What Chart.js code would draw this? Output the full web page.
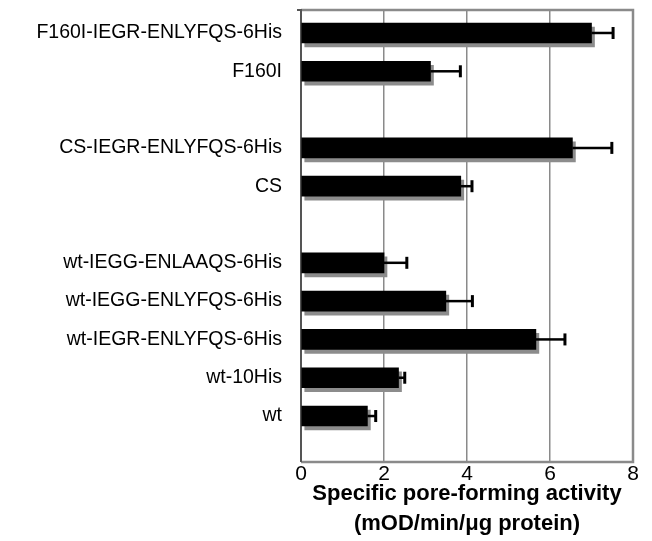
<!DOCTYPE html>
<html>
<head>
<meta charset="UTF-8">
<title>Specific pore-forming activity</title>
<script src="https://cdn.jsdelivr.net/npm/chart.js"></script>
<style>
  html, body { margin: 0; padding: 0; background: #fff; }
  #wrap { width: 652px; height: 541px; }
</style>
</head>
<body>
<div id="wrap"><canvas id="chart" width="652" height="541"></canvas></div>
<script>
// constructs, top to bottom ('' = spacer row between groups)
const labels = ['F160I-IEGR-ENLYFQS-6His', 'F160I', '', 'CS-IEGR-ENLYFQS-6His', 'CS', '',
  'wt-IEGG-ENLAAQS-6His', 'wt-IEGG-ENLYFQS-6His', 'wt-IEGR-ENLYFQS-6His', 'wt-10His', 'wt'];
const activity = [7.0, 3.12, null, 6.54, 3.85, null, 2.0, 3.49, 5.66, 2.35, 1.6];
const errPlus = [0.52, 0.72, null, 0.95, 0.27, null, 0.55, 0.64, 0.7, 0.15, 0.2];
const xTicks = [0, 2, 4, 6, 8];

const FONT = "'Liberation Sans', Arial, sans-serif";

// grey drop shadow behind the bars
const shadowPlugin = {
  id: 'shadow',
  beforeDatasetDraw(chart) {
    const c = chart.ctx;
    c.save();
    c.shadowColor = '#8c8c8c';
    c.shadowOffsetX = 3;
    c.shadowOffsetY = 4;
    c.shadowBlur = 0;
  },
  afterDatasetDraw(chart) {
    chart.ctx.restore();
  }
};

// plot frame
const framePlugin = {
  id: 'frame',
  beforeDatasetsDraw(chart) {
    const { ctx, chartArea: a } = chart;
    ctx.save();
    ctx.strokeStyle = '#8a8a8a';
    ctx.lineWidth = 2.5;
    ctx.beginPath();
    ctx.moveTo(a.left, a.top);
    ctx.lineTo(a.right, a.top);
    ctx.lineTo(a.right, a.bottom);
    ctx.lineTo(a.left, a.bottom);
    ctx.stroke();
    ctx.strokeStyle = '#555';
    ctx.lineWidth = 2;
    ctx.beginPath();
    ctx.moveTo(a.left, a.top - 1);
    ctx.lineTo(a.left, a.bottom);
    ctx.moveTo(a.left - 4, a.top);
    ctx.lineTo(a.left, a.top);
    ctx.stroke();
    ctx.restore();
  }
};

// one-sided error bars
const errorPlugin = {
  id: 'errors',
  afterDatasetsDraw(chart) {
    const ctx = chart.ctx;
    const xs = chart.scales.x;
    const meta = chart.getDatasetMeta(0);
    ctx.save();
    ctx.strokeStyle = '#000';
    meta.data.forEach((bar, i) => {
      if (activity[i] == null) return;
      const x0 = xs.getPixelForValue(activity[i]);
      const x1 = xs.getPixelForValue(activity[i] + errPlus[i]);
      ctx.lineWidth = 2.5;
      ctx.beginPath();
      ctx.moveTo(x0, bar.y);
      ctx.lineTo(x1, bar.y);
      ctx.stroke();
      ctx.lineWidth = 3;
      ctx.beginPath();
      ctx.moveTo(x1, bar.y - 6);
      ctx.lineTo(x1, bar.y + 6);
      ctx.stroke();
    });
    ctx.restore();
  }
};

new Chart(document.getElementById('chart'), {
  type: 'bar',
  data: {
    labels: labels,
    datasets: [{
      data: activity,
      backgroundColor: '#000',
      borderWidth: 0,
      barThickness: 20
    }]
  },
  options: {
    indexAxis: 'y',
    responsive: false,
    animation: false,
    layout: { padding: { top: 10, right: 19, left: 0, bottom: 0 } },
    plugins: { legend: { display: false }, tooltip: { enabled: false } },
    scales: {
      x: {
        min: 0,
        max: 8,
        afterBuildTicks: s => { s.ticks = xTicks.map(v => ({ value: v })); },
        afterFit: s => { s.height = 79; },
        grid: { color: '#8a8a8a', lineWidth: 1.5, drawTicks: false },
        border: { display: false },
        ticks: { color: '#000', padding: 2, font: { family: FONT, size: 21, lineHeight: 1 } },
        title: {
          display: true,
          text: ['Specific pore-forming activity', '(mOD/min/\u03bcg protein)'],
          color: '#000',
          padding: { top: 0, bottom: 2 },
          font: { family: FONT, size: 22, weight: 'bold', lineHeight: 1.36 }
        }
      },
      y: {
        afterFit: s => { s.width = 301; s.paddingTop = 0; s.paddingBottom = 0; },
        // spacer rows are a little narrower than a full row in the original
        afterBuildTicks: s => { s._valueRange = 11.8; s._startValue = -0.6; },
        grid: { display: false, drawTicks: false },
        border: { display: false },
        ticks: { color: '#000', padding: 19, autoSkip: false, font: { family: FONT, size: 19.5 } }
      }
    }
  },
  plugins: [shadowPlugin, framePlugin, errorPlugin]
});
</script>
</body>
</html>
